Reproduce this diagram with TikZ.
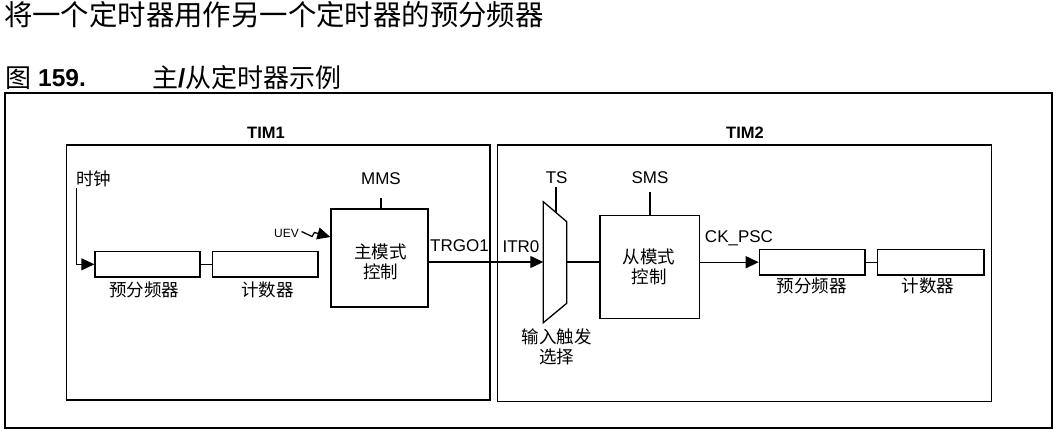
\documentclass[tikz,border=0pt]{standalone}
\usepackage{fontspec}
\setmainfont{Liberation Sans}
\newfontfamily\cjk{Noto Sans CJK SC}
\usetikzlibrary{arrows.meta}
\tikzset{
  ln/.style={line width=1.3pt},
  frame/.style={draw, line width=2pt},
  timbox/.style={draw, line width=1.5pt},
  blk/.style={draw, line width=1.3pt, inner sep=0pt, minimum width=#1},
  arr/.style={ln, -{Triangle[length=13pt,width=12pt]}},
  txt/.style={inner sep=0pt, font=\fontsize{17}{20}\selectfont},
  ctxt/.style={inner sep=0pt, font=\cjk\fontsize{17.5}{20}\selectfont, align=center},
  btxt/.style={inner sep=0pt, font=\bfseries\fontsize{16.5}{20}\selectfont},
}
\begin{document}
\begin{tikzpicture}[x=1pt,y=-1pt]
\useasboundingbox (0,0) rectangle (1063,439);
% headings
\node[inner sep=0pt, anchor=west, font=\cjk\fontsize{28.4}{30}\selectfont] (title) at (4,15) {将一个定时器用作另一个定时器的预分频器};
\node[inner sep=0pt, anchor=west, font=\cjk\fontsize{26}{28}\selectfont] (cap1) at (5,78) {图};
\node[inner sep=0pt, anchor=west, font=\bfseries\fontsize{24.5}{26}\selectfont] (cap2) at (38,78) {159.};
\node[inner sep=0pt, anchor=west, font=\cjk\fontsize{26}{28}\selectfont] (cap3) at (152,78) {主{\rmfamily\bfseries /}从定时器示例};
% frames
\draw[frame] (5,93) rectangle (1052,428);
\draw[timbox] (66.7,145) rectangle (490,400);
\draw[timbox] (497.7,145) rectangle (991.7,401.7);
\node[btxt] (tim1) at (266,133) {TIM1};
\node[btxt] (tim2) at (745,133) {TIM2};
% TIM1 blocks
\node[blk=105pt, minimum height=25.3pt] (pre1) at (147.5,264.3) {};
\node[blk=105.3pt, minimum height=25.3pt] (cnt1) at (265.3,264.3) {};
\node[blk=97pt, minimum height=98pt] (mst) at (379.5,258) {};
\node[ctxt] (mstl) at (380.7,261.7) {主模式\\控制};
\node[ctxt] (pre1l) at (144,290) {预分频器};
\node[ctxt] (cnt1l) at (267.5,290) {计数器};
\node[ctxt] (clkl) at (93.5,179) {时钟};
\node[txt] (mms) at (381,179) {MMS};
\node[inner sep=0pt, font=\fontsize{12}{14}\selectfont] (uev) at (286.5,233) {UEV};
\node[txt] (trgo) at (459.5,246) {TRGO1};
% TIM2 blocks
\node[blk=99.3pt, minimum height=102.6pt] (slv) at (649.7,267) {};
\node[ctxt] (slvl) at (649,266.7) {从模式\\控制};
\node[blk=105.7pt, minimum height=25.7pt] (pre2) at (812.2,262.2) {};
\node[blk=106.7pt, minimum height=25.7pt] (cnt2) at (930.7,262.2) {};
\node[ctxt] (pre2l) at (811.7,286) {预分频器};
\node[ctxt] (cnt2l) at (928,286) {计数器};
\node[txt] (itr) at (521,247) {ITR0};
\node[txt] (ts) at (556.7,178) {TS};
\node[txt] (sms) at (650,178) {SMS};
\node[txt] (ckpsc) at (739,238) {CK\_PSC};
\node[ctxt] (selL) at (556.7,346.7) {输入触发\\选择};
% multiplexer
\coordinate (m1) at (543.3,201.7);
\coordinate (m2) at (566.7,221.7);
\coordinate (m3) at (566.7,303.3);
\coordinate (m4) at (543.3,322.7);
\draw[ln, line join=miter] (m1) -- (m2) -- (m3) -- (m4) -- cycle;
\coordinate (muxin) at (543.3,262);
\coordinate (muxout) at (566.7,262);
\coordinate (tstop) at (556,187);
\coordinate (tsbot) at (556,212.5);
% connectors
\coordinate (clk) at (76.7,188);
\draw[arr] (clk) |- (pre1.west);
\draw[ln] (pre1.east) -- (cnt1.west);
\coordinate (mmstop) at (381,198);
\draw[ln] (mmstop) -- (mst.north -| mmstop);
\coordinate (zz0) at (301.5,231.5);
\coordinate (zz1) at (312,236.5);
\coordinate (zz2) at (314.5,232.5);
\coordinate (uevtip) at (331,237);
\draw[arr] (zz0) -- (zz1) -- (zz2) -- (mst.west |- uevtip);
\draw[arr] (mst.east |- muxin) -- (muxin);
\draw[ln] (tstop) -- (tsbot);
\draw[ln] (muxout) -- (slv.west |- muxout);
\coordinate (smstop) at (650,192);
\draw[ln] (smstop) -- (slv.north -| smstop);
\draw[arr] (slv.east |- pre2.west) -- (pre2.west);
\draw[ln] (pre2.east) -- (cnt2.west);
\end{tikzpicture}
\end{document}
